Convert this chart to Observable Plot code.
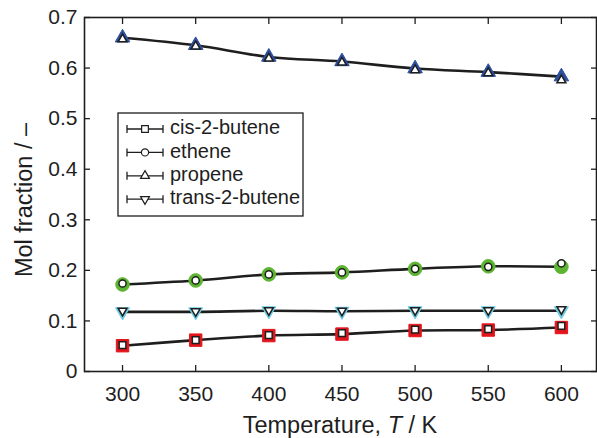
<!DOCTYPE html>
<html>
<head>
<meta charset="utf-8">
<script src="https://cdn.jsdelivr.net/npm/d3@7"></script>
<script src="https://cdn.jsdelivr.net/npm/@observablehq/plot@0.6"></script>
<style>
  html, body { margin: 0; padding: 0; background: #fff; }
  svg { display: block; }
</style>
</head>
<body>
<div id="chart"></div>
<script>
// ---- data ----
const temps = [300, 350, 400, 450, 500, 550, 600];
const seriesNames = ["cis-2-butene", "ethene", "propene", "trans-2-butene"];
// coloured (measured) markers, joined by the line
const cisMeas    = [0.051, 0.062, 0.071, 0.074, 0.081, 0.082, 0.087];
const etheneMeas = [0.172, 0.180, 0.192, 0.196, 0.203, 0.208, 0.207];
const propeneMeas= [0.660, 0.645, 0.622, 0.613, 0.599, 0.592, 0.583];
const transMeas  = [0.118, 0.118, 0.120, 0.119, 0.120, 0.120, 0.120];
// white (second data set) markers
const cisCalc    = [0.052, 0.062, 0.072, 0.076, 0.083, 0.084, 0.090];
const etheneCalc = [0.174, 0.180, 0.192, 0.196, 0.203, 0.207, 0.214];
const propeneCalc= [0.657, 0.643, 0.619, 0.611, 0.596, 0.590, 0.576];
const transCalc  = [0.120, 0.119, 0.121, 0.120, 0.121, 0.121, 0.123];
const yTicks = [0, 0.1, 0.2, 0.3, 0.4, 0.5, 0.6, 0.7];

const colors  = {"cis-2-butene": "#e3151c", "ethene": "#5cb531", "propene": "#2d4f9e", "trans-2-butene": "#6dcbe4"};
const symbols = {"cis-2-butene": "square", "ethene": "circle", "propene": "triangle", "trans-2-butene": "triangle"};
const rotates = {"cis-2-butene": 0, "ethene": 0, "propene": 0, "trans-2-butene": 180};
const bigR    = {"cis-2-butene": 7, "ethene": 6.8, "propene": 5.4, "trans-2-butene": 5.2};
const smallR  = {"cis-2-butene": 3.8, "ethene": 3.6, "propene": 3.3, "trans-2-butene": 3.3};

const meas = {"cis-2-butene": cisMeas, "ethene": etheneMeas, "propene": propeneMeas, "trans-2-butene": transMeas};
const calc = {"cis-2-butene": cisCalc, "ethene": etheneCalc, "propene": propeneCalc, "trans-2-butene": transCalc};

const measData = seriesNames.flatMap(s => temps.map((t, i) => ({series: s, T: t, v: meas[s][i]})));
const calcData = seriesNames.flatMap(s => temps.map((t, i) => ({series: s, T: t, v: calc[s][i]})));

const ink = "#1e1e1e";
const font = "'Liberation Sans', Arial, Helvetica, sans-serif";

const dotMarks = [];
for (const s of seriesNames) {
  dotMarks.push(Plot.dot(measData.filter(d => d.series === s), {
    x: "T", y: "v", symbol: symbols[s], rotate: rotates[s], r: bigR[s],
    fill: colors[s], stroke: colors[s], strokeWidth: 1
  }));
}
for (const s of seriesNames) {
  dotMarks.push(Plot.dot(calcData.filter(d => d.series === s), {
    x: "T", y: "v", symbol: symbols[s], rotate: rotates[s], r: smallR[s],
    fill: "white", stroke: ink, strokeWidth: 1.5
  }));
}

const chart = Plot.plot({
  width: 597,
  height: 438,
  marginLeft: 84,
  marginRight: 1,
  marginTop: 17,
  marginBottom: 67,
  style: {fontFamily: font, fontSize: "21px", color: ink, background: "white"},
  x: {domain: [274, 624]},
  y: {domain: [0, 0.7]},
  marks: [
    // tick labels
    Plot.axisY({ticks: yTicks, tickSize: 0, tickPadding: 7, label: null, tickFormat: d => String(d)}),
    Plot.axisX({ticks: temps, tickSize: 0, tickPadding: 15, label: null, tickFormat: d => String(d)}),
    // inward tick marks on all four sides
    Plot.axisY({ticks: yTicks, anchor: "left", tickSize: 6, dx: 6, label: null, tickFormat: () => "", strokeWidth: 1.3}),
    Plot.axisY({ticks: yTicks, anchor: "right", tickSize: 6, dx: -6, label: null, tickFormat: () => "", strokeWidth: 1.3}),
    Plot.axisX({ticks: temps, anchor: "bottom", tickSize: 6, dy: -6, label: null, tickFormat: () => "", strokeWidth: 1.3}),
    Plot.axisX({ticks: temps, anchor: "top", tickSize: 6, dy: 6, label: null, tickFormat: () => "", strokeWidth: 1.3}),
    Plot.line(measData, {x: "T", y: "v", z: "series", curve: "catmull-rom", stroke: ink, strokeWidth: 2.6}),
    ...dotMarks,
    Plot.frame({stroke: ink, strokeWidth: 1.6})
  ]
});

document.getElementById("chart").appendChild(chart);

// ---- axis titles and legend ----
const svg = d3.select(chart);
svg.append("text")
  .attr("transform", "translate(26,200) rotate(-90)")
  .attr("text-anchor", "middle")
  .attr("dominant-baseline", "middle")
  .attr("font-family", font).attr("font-size", 23.5).attr("fill", ink)
  .text("Mol fraction / –");

const xt = svg.append("text")
  .attr("x", 340).attr("y", 433)
  .attr("text-anchor", "middle")
  .attr("font-family", font).attr("font-size", 23.5).attr("fill", ink);
xt.append("tspan").text("Temperature, ");
xt.append("tspan").attr("font-style", "italic").text("T");
xt.append("tspan").text(" / K");

const lg = svg.append("g");
lg.append("rect").attr("x", 118).attr("y", 113).attr("width", 185).attr("height", 103)
  .attr("fill", "white").attr("stroke", ink).attr("stroke-width", 1.3);
const sym = {square: d3.symbolSquare, circle: d3.symbolCircle, triangle: d3.symbolTriangle};
seriesNames.forEach((s, i) => {
  const y = 129 + i * 23.4;
  const g = lg.append("g");
  g.append("line").attr("x1", 127).attr("x2", 163).attr("y1", y).attr("y2", y).attr("stroke", ink).attr("stroke-width", 1.3);
  g.append("line").attr("x1", 127).attr("x2", 127).attr("y1", y - 4).attr("y2", y + 4).attr("stroke", ink).attr("stroke-width", 1.3);
  g.append("line").attr("x1", 163).attr("x2", 163).attr("y1", y - 4).attr("y2", y + 4).attr("stroke", ink).attr("stroke-width", 1.3);
  const r = smallR[s];
  g.append("path")
    .attr("d", d3.symbol(sym[symbols[s]], Math.PI * r * r)())
    .attr("transform", `translate(145,${y}) rotate(${rotates[s]})`)
    .attr("fill", "white").attr("stroke", ink).attr("stroke-width", 1.2);
  g.append("text").attr("x", 170).attr("y", y)
    .attr("text-anchor", "start").attr("dominant-baseline", "middle")
    .attr("font-family", font).attr("font-size", 20).attr("fill", ink).text(s);
});
</script>
</body>
</html>
